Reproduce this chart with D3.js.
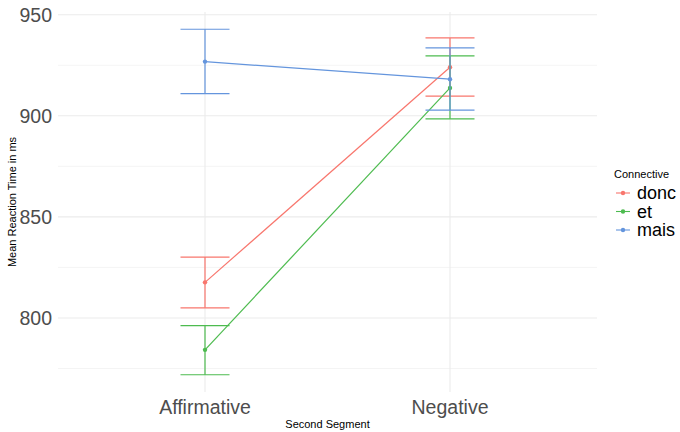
<!DOCTYPE html>
<html>
<head>
<meta charset="utf-8">
<script src="https://cdn.jsdelivr.net/npm/d3@7"></script>
<style>
  body { margin: 0; background: #fff; }
  text { font-family: "Liberation Sans", Arial, sans-serif; }
</style>
</head>
<body>
<div id="vis"></div>
<script>
// data
const segments = ["Affirmative", "Negative"];
const connectives = ["donc", "et", "mais"];
const colors = ["#F8766D", "#4DBB4F", "#6495DD"];
const meanDonc = [817.6, 924.0];
const meanEt = [784.2, 913.8];
const meanMais = [926.8, 918.1];
const lowDonc = [805.0, 909.7];
const highDonc = [830.1, 938.5];
const lowEt = [771.9, 898.5];
const highEt = [796.2, 929.6];
const lowMais = [911.0, 902.8];
const highMais = [942.8, 933.6];
const yTicks = [800, 850, 900, 950];
const yMinor = [775, 825, 875, 925];

const series = [
  { name: "donc", mean: meanDonc, low: lowDonc, high: highDonc },
  { name: "et", mean: meanEt, low: lowEt, high: highEt },
  { name: "mais", mean: meanMais, low: lowMais, high: highMais }
];

let W = 680, H = 432;
let margin = { top: 12, left: 58, right: 83, bottom: 40 };
let width = W - margin.left - margin.right,
    height = H - margin.top - margin.bottom;

let svg = d3.select('#vis').append('svg')
  .attr('width', W).attr('height', H);

let g = svg.append('g')
  .attr('transform', `translate(${margin.left},${margin.top})`);

// discrete x like ggplot: positions 1..n, expand 0.6
const x = d3.scaleLinear().domain([0.4, 2.6]).range([0, width]);
const xPos = i => x(i + 1);

// y domain with 5% expansion
let allVals = series.flatMap(s => s.low.concat(s.high));
let lo = d3.min(allVals), hi = d3.max(allVals);
let pad = (hi - lo) * 0.05;
const y = d3.scaleLinear().domain([lo - pad, hi + pad]).range([height, 0]);

const grid = "#EBEBEB";

// minor gridlines
g.selectAll('.ygm').data(yMinor).enter().append('line')
  .attr('x1', 0).attr('x2', width)
  .attr('y1', d => y(d)).attr('y2', d => y(d))
  .attr('stroke', grid).attr('stroke-width', 0.55);

// major gridlines
g.selectAll('.yg').data(yTicks).enter().append('line')
  .attr('x1', 0).attr('x2', width)
  .attr('y1', d => y(d)).attr('y2', d => y(d))
  .attr('stroke', grid).attr('stroke-width', 1.1);

g.selectAll('.xg').data(segments).enter().append('line')
  .attr('x1', (d, i) => xPos(i)).attr('x2', (d, i) => xPos(i))
  .attr('y1', 0).attr('y2', height)
  .attr('stroke', grid).attr('stroke-width', 1.1);

// y tick labels
g.selectAll('.yl').data(yTicks).enter().append('text')
  .attr('x', -6).attr('y', d => y(d))
  .attr('dy', '0.35em')
  .attr('text-anchor', 'end')
  .attr('fill', '#4D4D4D')
  .style('font-size', '19.5px')
  .text(d => d);

// x tick labels
g.selectAll('.xl').data(segments).enter().append('text')
  .attr('x', (d, i) => xPos(i)).attr('y', height + 22)
  .attr('text-anchor', 'middle')
  .attr('fill', '#4D4D4D')
  .style('font-size', '19.5px')
  .text(d => d);

// axis titles
svg.append('text')
  .attr('x', margin.left + width / 2).attr('y', H - 4)
  .attr('text-anchor', 'middle')
  .style('font-size', '11px')
  .text('Second Segment');

svg.append('text')
  .attr('transform', `translate(16,${margin.top + height / 2}) rotate(-90)`)
  .attr('text-anchor', 'middle')
  .style('font-size', '11px')
  .text('Mean Reaction Time in ms');

// error bars, lines and points
const capW = (x(1.1) - x(0.9)) / 2;
series.forEach((s, k) => {
  let col = colors[k];
  let sg = g.append('g');
  s.mean.forEach((m, i) => {
    let cx = xPos(i);
    sg.append('line')
      .attr('x1', cx).attr('x2', cx)
      .attr('y1', y(s.low[i])).attr('y2', y(s.high[i]))
      .attr('stroke', col).attr('stroke-width', 1.2);
    [s.low[i], s.high[i]].forEach(v => {
      sg.append('line')
        .attr('x1', cx - capW).attr('x2', cx + capW)
        .attr('y1', y(v)).attr('y2', y(v))
        .attr('stroke', col).attr('stroke-width', 1.2);
    });
  });
  sg.append('path')
    .datum(s.mean)
    .attr('fill', 'none')
    .attr('stroke', col).attr('stroke-width', 1.2)
    .attr('d', d3.line().x((d, i) => xPos(i)).y(d => y(d)));
  sg.selectAll('circle').data(s.mean).enter().append('circle')
    .attr('cx', (d, i) => xPos(i)).attr('cy', d => y(d))
    .attr('r', 2.2).attr('fill', col);
});

// legend
let leg = svg.append('g').attr('transform', 'translate(614,0)');
leg.append('text')
  .attr('x', 0).attr('y', 178)
  .style('font-size', '11px')
  .text('Connective');
connectives.forEach((c, k) => {
  let cy = 193 + k * 18.5;
  leg.append('line')
    .attr('x1', 2).attr('x2', 16)
    .attr('y1', cy).attr('y2', cy)
    .attr('stroke', colors[k]).attr('stroke-width', 1.1);
  leg.append('circle')
    .attr('cx', 9).attr('cy', cy).attr('r', 2.2)
    .attr('fill', colors[k]);
  leg.append('text')
    .attr('x', 23).attr('y', cy)
    .attr('dy', '0.35em')
    .style('font-size', '18px')
    .text(c);
});
</script>
</body>
</html>
